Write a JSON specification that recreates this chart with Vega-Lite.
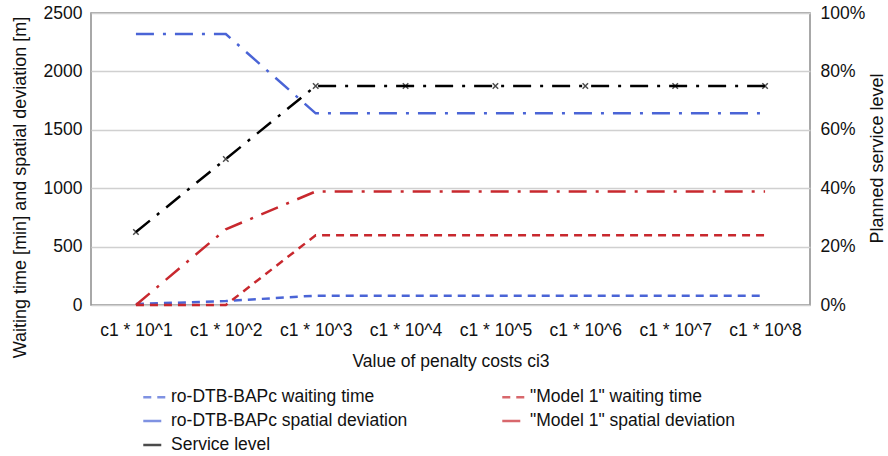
{
  "$schema": "https://vega.github.io/schema/vega-lite/v6.json",
  "width": 719,
  "height": 292,
  "padding": {"left": 10, "top": 4, "right": 2, "bottom": 2},
  "background": "white",
  "config": {
    "view": {"stroke": "#8c8c8c", "strokeWidth": 1.5},
    "font": "Liberation Sans",
    "axis": {"labelColor": "#111", "titleColor": "#111", "labelFontSize": 17.5, "titleFontWeight": "normal", "domain": false, "ticks": false},
    "legend": {"labelFontSize": 17.5, "labelColor": "#111"}
  },
  "data": {
    "values": [
      {"cost": "c1 * 10^1", "series": "ro-DTB-BAPc waiting time", "value": 8},
      {"cost": "c1 * 10^2", "series": "ro-DTB-BAPc waiting time", "value": 34},
      {"cost": "c1 * 10^3", "series": "ro-DTB-BAPc waiting time", "value": 80},
      {"cost": "c1 * 10^4", "series": "ro-DTB-BAPc waiting time", "value": 80},
      {"cost": "c1 * 10^5", "series": "ro-DTB-BAPc waiting time", "value": 80},
      {"cost": "c1 * 10^6", "series": "ro-DTB-BAPc waiting time", "value": 80},
      {"cost": "c1 * 10^7", "series": "ro-DTB-BAPc waiting time", "value": 80},
      {"cost": "c1 * 10^8", "series": "ro-DTB-BAPc waiting time", "value": 80},
      {"cost": "c1 * 10^1", "series": "\"Model 1\" waiting time", "value": 0},
      {"cost": "c1 * 10^2", "series": "\"Model 1\" waiting time", "value": 0},
      {"cost": "c1 * 10^3", "series": "\"Model 1\" waiting time", "value": 597},
      {"cost": "c1 * 10^4", "series": "\"Model 1\" waiting time", "value": 597},
      {"cost": "c1 * 10^5", "series": "\"Model 1\" waiting time", "value": 597},
      {"cost": "c1 * 10^6", "series": "\"Model 1\" waiting time", "value": 597},
      {"cost": "c1 * 10^7", "series": "\"Model 1\" waiting time", "value": 597},
      {"cost": "c1 * 10^8", "series": "\"Model 1\" waiting time", "value": 597},
      {"cost": "c1 * 10^1", "series": "ro-DTB-BAPc spatial deviation", "value": 2320},
      {"cost": "c1 * 10^2", "series": "ro-DTB-BAPc spatial deviation", "value": 2320},
      {"cost": "c1 * 10^3", "series": "ro-DTB-BAPc spatial deviation", "value": 1641},
      {"cost": "c1 * 10^4", "series": "ro-DTB-BAPc spatial deviation", "value": 1641},
      {"cost": "c1 * 10^5", "series": "ro-DTB-BAPc spatial deviation", "value": 1641},
      {"cost": "c1 * 10^6", "series": "ro-DTB-BAPc spatial deviation", "value": 1641},
      {"cost": "c1 * 10^7", "series": "ro-DTB-BAPc spatial deviation", "value": 1641},
      {"cost": "c1 * 10^8", "series": "ro-DTB-BAPc spatial deviation", "value": 1641},
      {"cost": "c1 * 10^1", "series": "\"Model 1\" spatial deviation", "value": 0},
      {"cost": "c1 * 10^2", "series": "\"Model 1\" spatial deviation", "value": 648},
      {"cost": "c1 * 10^3", "series": "\"Model 1\" spatial deviation", "value": 972},
      {"cost": "c1 * 10^4", "series": "\"Model 1\" spatial deviation", "value": 972},
      {"cost": "c1 * 10^5", "series": "\"Model 1\" spatial deviation", "value": 972},
      {"cost": "c1 * 10^6", "series": "\"Model 1\" spatial deviation", "value": 972},
      {"cost": "c1 * 10^7", "series": "\"Model 1\" spatial deviation", "value": 972},
      {"cost": "c1 * 10^8", "series": "\"Model 1\" spatial deviation", "value": 972},
      {"cost": "c1 * 10^1", "series": "Service level", "value": 0.25},
      {"cost": "c1 * 10^2", "series": "Service level", "value": 0.5},
      {"cost": "c1 * 10^3", "series": "Service level", "value": 0.75},
      {"cost": "c1 * 10^4", "series": "Service level", "value": 0.75},
      {"cost": "c1 * 10^5", "series": "Service level", "value": 0.75},
      {"cost": "c1 * 10^6", "series": "Service level", "value": 0.75},
      {"cost": "c1 * 10^7", "series": "Service level", "value": 0.75},
      {"cost": "c1 * 10^8", "series": "Service level", "value": 0.75}
    ]
  },
  "encoding": {
    "x": {
      "field": "cost", "type": "ordinal", "sort": null,
      "scale": {"type": "point", "padding": 0.5},
      "axis": {"labelAngle": 0, "labelPadding": 16, "grid": false, "title": "Value of penalty costs ci3", "titleFontSize": 17.5, "titlePadding": 14}
    },
    "color": {
      "field": "series", "type": "nominal",
      "scale": {
        "domain": ["ro-DTB-BAPc waiting time", "\"Model 1\" waiting time", "ro-DTB-BAPc spatial deviation", "\"Model 1\" spatial deviation", "Service level"],
        "range": ["#4a64d6", "#c8282e", "#4a64d6", "#c8282e", "#000000"]
      },
      "legend": {"title": null, "orient": "none", "direction": "horizontal", "legendX": 51, "legendY": 371, "columns": 2, "columnPadding": 89, "rowPadding": 2, "symbolSize": 550, "symbolStrokeWidth": 2.5, "labelOffset": 3, "labelLimit": 400}
    },
    "strokeDash": {
      "field": "series", "type": "nominal",
      "scale": {
        "domain": ["ro-DTB-BAPc waiting time", "\"Model 1\" waiting time", "ro-DTB-BAPc spatial deviation", "\"Model 1\" spatial deviation", "Service level"],
        "range": [[8, 6], [8, 6], [18, 9, 3, 9], [18, 9, 3, 9], [18, 9, 3, 9]]
      },
      "legend": {"title": null, "orient": "none", "direction": "horizontal", "legendX": 51, "legendY": 371, "columns": 2, "columnPadding": 89, "rowPadding": 2, "symbolSize": 550, "symbolStrokeWidth": 2.5, "labelOffset": 3, "labelLimit": 400}
    }
  },
  "layer": [
    {
      "transform": [{"filter": "datum.series !== 'Service level'"}],
      "mark": {"type": "line", "strokeWidth": 2.5},
      "encoding": {
        "y": {
          "field": "value", "type": "quantitative",
          "scale": {"domain": [0, 2500]},
          "axis": {"values": [0, 500, 1000, 1500, 2000, 2500], "format": "d", "gridColor": "#d0d0d0", "gridWidth": 1.5, "labelPadding": 9, "title": "Waiting time [min] and spatial deviation [m]", "titleFontSize": 18, "titleAngle": 270, "titleX": -71, "titleY": 174, "titleAlign": "center", "titleBaseline": "middle"}
        }
      }
    },
    {
      "transform": [{"filter": "datum.series === 'Service level'"}],
      "encoding": {
        "y": {
          "field": "value", "type": "quantitative",
          "scale": {"domain": [0, 1]},
          "axis": {"orient": "right", "format": ".0%", "values": [0, 0.2, 0.4, 0.6, 0.8, 1], "grid": false, "labelPadding": 10, "title": "Planned service level", "titleFontSize": 18, "titleAngle": 270, "titleX": 67, "titleY": 145, "titleAlign": "center", "titleBaseline": "middle"}
        }
      },
      "layer": [
        {"mark": {"type": "line", "strokeWidth": 2.5}},
        {"mark": {"type": "point", "shape": "M-1,-1L1,1M-1,1L1,-1", "filled": false, "size": 30, "strokeWidth": 1.5, "strokeDash": [1, 0]}}
      ]
    }
  ],
  "resolve": {"scale": {"y": "independent"}}
}
